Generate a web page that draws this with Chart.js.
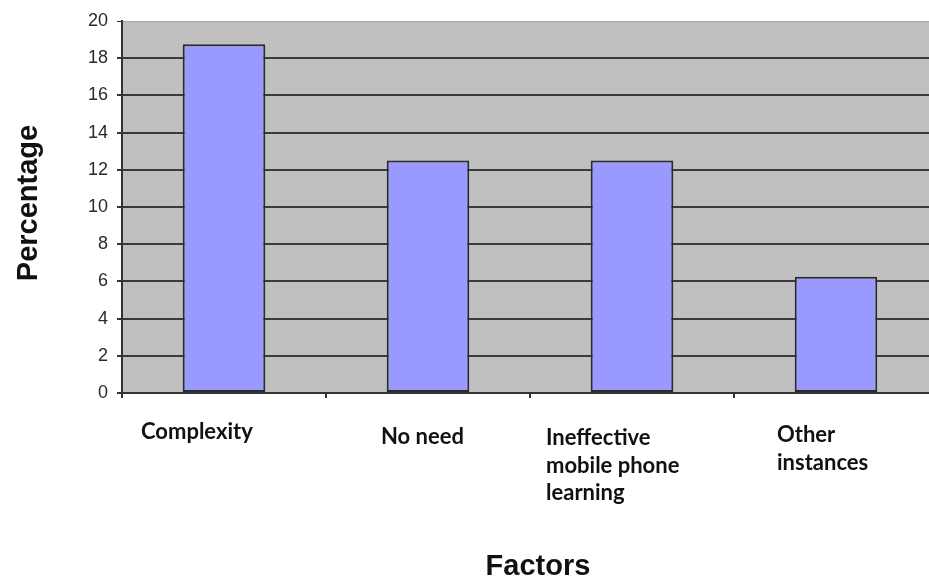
<!DOCTYPE html>
<html>
<head>
<meta charset="utf-8">
<title>Factors</title>
<script src="https://cdn.jsdelivr.net/npm/chart.js@4/dist/chart.umd.min.js"></script>
<style>
  html, body { margin: 0; padding: 0; background: #ffffff; overflow: hidden; }
  #wrap { position: absolute; left: 0; top: 0; width: 940px; height: 578px; }
</style>
</head>
<body>
<div id="wrap"><canvas id="chart" width="940" height="578"></canvas></div>
<script>
// Reasons given, share of respondents (%)
const categories = ['Complexity', 'No need', ['Ineffective', 'mobile phone', 'learning'], ['Other', 'instances']];
const percentages = [18.75, 12.5, 12.5, 6.25];
const yTicks = [0, 2, 4, 6, 8, 10, 12, 14, 16, 18, 20];
const yAxisTitle = 'Percentage';
const xAxisTitle = 'Factors';

// Category label placement: horizontal shift from the bar centre and first baseline
const labelPlacement = [
  { dx: -83, y: 439 },
  { dx: -47, y: 444 },
  { dx: -86, y: 445 },
  { dx: -59, y: 442 }
];

const plotBackground = {
  id: 'plotBackground',
  beforeDraw(chart) {
    const { ctx, chartArea: a } = chart;
    ctx.save();
    ctx.fillStyle = '#c0c0c0';
    ctx.fillRect(a.left, a.top, a.right - a.left, a.bottom - a.top);
    ctx.restore();
  }
};

const textLayer = {
  id: 'textLayer',
  afterDraw(chart) {
    const { ctx } = chart;
    const xs = chart.scales.x;
    ctx.save();
    // category labels
    ctx.fillStyle = '#111111';
    ctx.font = 'bold 22px Lato, "Open Sans", sans-serif';
    ctx.textAlign = 'left';
    ctx.textBaseline = 'alphabetic';
    categories.forEach((lab, i) => {
      const lines = Array.isArray(lab) ? lab : [lab];
      const p = labelPlacement[i];
      const x = xs.getPixelForValue(i) + p.dx;
      lines.forEach((t, k) => ctx.fillText(t, x, p.y + k * 27.5));
    });
    // axis titles
    ctx.fillStyle = '#111111';
    ctx.font = 'bold 29px "Liberation Sans", Arial, sans-serif';
    ctx.textAlign = 'center';
    ctx.fillText(xAxisTitle, 538, 575);
    ctx.translate(37, 203);
    ctx.rotate(-Math.PI / 2);
    ctx.fillText(yAxisTitle, 0, 0);
    ctx.restore();
  }
};

new Chart(document.getElementById('chart'), {
  type: 'bar',
  data: {
    labels: categories,
    datasets: [{
      data: percentages,
      backgroundColor: '#9999ff',
      borderColor: '#2a2a2a',
      borderWidth: 2,
      borderSkipped: false,
      barPercentage: 0.405,
      categoryPercentage: 1.0
    }]
  },
  options: {
    responsive: false,
    animation: false,
    devicePixelRatio: 1,
    layout: { padding: { left: 0, right: 2, top: 21, bottom: 0 } },
    plugins: { legend: { display: false }, tooltip: { enabled: false } },
    scales: {
      x: {
        offset: true,
        afterFit(scale) { scale.height = 185; },
        grid: {
          offset: true,
          drawOnChartArea: false,
          drawTicks: true,
          tickLength: 5,
          tickColor: '#333333',
          lineWidth: 2
        },
        border: { display: true, color: '#333333', width: 2 },
        ticks: { display: false }
      },
      y: {
        min: 0,
        max: 20,
        afterFit(scale) { scale.width = 122; },
        afterBuildTicks(scale) { scale.ticks = yTicks.map(v => ({ value: v })); },
        grid: {
          color: ctx => (ctx.tick && ctx.tick.value === 20) ? '#a8a8a8' : (ctx.tick && ctx.tick.value === 0 ? 'rgba(0,0,0,0)' : '#3a3a3a'),
          lineWidth: ctx => (ctx.tick && ctx.tick.value === 20) ? 1 : 2,
          tickColor: '#333333',
          tickLength: 5
        },
        border: { display: true, color: '#333333', width: 2 },
        ticks: {
          padding: 9,
          color: '#2a2a2a',
          font: { family: '"Liberation Sans", Arial, sans-serif', size: 18 }
        }
      }
    }
  },
  plugins: [plotBackground, textLayer]
});
</script>
</body>
</html>
